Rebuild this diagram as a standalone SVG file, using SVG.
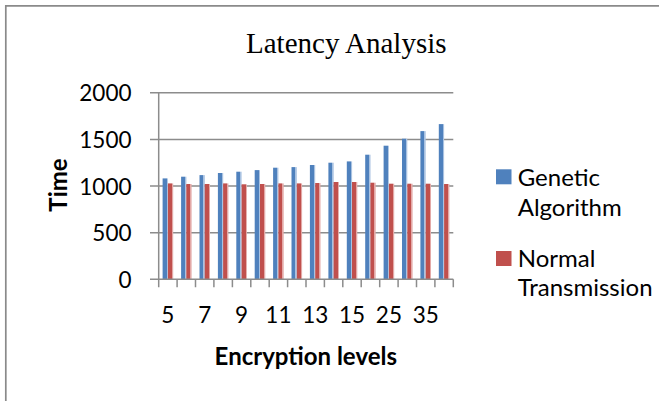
<svg xmlns="http://www.w3.org/2000/svg" width="659" height="401" viewBox="0 0 659 401">
  <defs>
    <!-- column fills: solid body with a pale right edge -->
    <linearGradient id="fill-genetic" x1="0" y1="0" x2="1" y2="0">
      <stop offset="0" stop-color="#4F81BD"/>
      <stop offset="0.74" stop-color="#4F81BD"/>
      <stop offset="0.74" stop-color="#A9C2E1"/>
      <stop offset="1" stop-color="#A9C2E1"/>
    </linearGradient>
    <linearGradient id="fill-normal" x1="0" y1="0" x2="1" y2="0">
      <stop offset="0" stop-color="#C0504D"/>
      <stop offset="0.74" stop-color="#C0504D"/>
      <stop offset="0.74" stop-color="#E3A9A7"/>
      <stop offset="1" stop-color="#E3A9A7"/>
    </linearGradient>
  </defs>
  <style>
    .frame { fill: none; stroke: #8A8A8A; stroke-width: 1.7; }
    .grid { stroke: #8C8C8C; stroke-width: 1.5; fill: none; }
    .axis { stroke: #8C8C8C; stroke-width: 1.5; fill: none; }
    .g-bar { fill: url(#fill-genetic); }
    .n-bar { fill: url(#fill-normal); }
    .title { font-family: "Liberation Serif", "Times New Roman", serif; font-size: 29px; fill: #000; }
    .tick { font-family: Lato, "Open Sans", "Liberation Sans", sans-serif; font-size: 22.5px; fill: #000; }
    .axis-title { font-family: Lato, "Open Sans", "Liberation Sans", sans-serif; font-size: 24px; font-weight: bold; fill: #000; }
    .legend { font-family: Lato, "Open Sans", "Liberation Sans", sans-serif; font-size: 24px; fill: #000; }
  </style>

  <rect width="659" height="401" fill="#FFFFFF"/>

  <!-- chart frame (only left and top edges fall inside the canvas) -->
  <path class="frame" d="M5.8,401 V5.8 H659"/>

  <g id="title">
    <text class="title" x="346.3" y="53.3" text-anchor="middle">Latency Analysis</text>
  </g>

  <!-- horizontal gridlines, each starting at its tick mark -->
  <g id="gridlines">
    <path class="grid" d="M150,92.7 H453.3 M150,139.4 H453.3 M150,186 H453.3 M150,232.7 H453.3"/>
  </g>

  <g id="series-genetic">
    <rect class="g-bar" x="162.6" y="178.4" width="5.3" height="100.9"/>
    <rect class="g-bar" x="181.1" y="176.7" width="5.3" height="102.6"/>
    <rect class="g-bar" x="199.5" y="175.1" width="5.3" height="104.2"/>
    <rect class="g-bar" x="217.9" y="173.0" width="5.3" height="106.3"/>
    <rect class="g-bar" x="236.3" y="171.7" width="5.3" height="107.6"/>
    <rect class="g-bar" x="254.7" y="170.1" width="5.3" height="109.2"/>
    <rect class="g-bar" x="273.1" y="167.7" width="5.3" height="111.6"/>
    <rect class="g-bar" x="291.5" y="167.1" width="5.3" height="112.2"/>
    <rect class="g-bar" x="309.9" y="165.0" width="5.3" height="114.3"/>
    <rect class="g-bar" x="328.4" y="162.7" width="5.3" height="116.6"/>
    <rect class="g-bar" x="346.8" y="161.4" width="5.3" height="117.9"/>
    <rect class="g-bar" x="365.2" y="154.7" width="5.3" height="124.6"/>
    <rect class="g-bar" x="383.6" y="145.7" width="5.3" height="133.6"/>
    <rect class="g-bar" x="402.0" y="138.7" width="5.3" height="140.6"/>
    <rect class="g-bar" x="420.4" y="131.1" width="5.3" height="148.2"/>
    <rect class="g-bar" x="438.8" y="124.1" width="5.3" height="155.2"/>
  </g>

  <g id="series-normal">
    <rect class="n-bar" x="167.9" y="183.4" width="5.3" height="95.9"/>
    <rect class="n-bar" x="186.3" y="184.0" width="5.3" height="95.3"/>
    <rect class="n-bar" x="204.7" y="184.0" width="5.3" height="95.3"/>
    <rect class="n-bar" x="223.1" y="183.4" width="5.3" height="95.9"/>
    <rect class="n-bar" x="241.6" y="184.3" width="5.3" height="95.0"/>
    <rect class="n-bar" x="260.0" y="184.0" width="5.3" height="95.3"/>
    <rect class="n-bar" x="278.4" y="183.4" width="5.3" height="95.9"/>
    <rect class="n-bar" x="296.8" y="183.4" width="5.3" height="95.9"/>
    <rect class="n-bar" x="315.2" y="183.0" width="5.3" height="96.3"/>
    <rect class="n-bar" x="333.6" y="182.0" width="5.3" height="97.3"/>
    <rect class="n-bar" x="352.0" y="182.0" width="5.3" height="97.3"/>
    <rect class="n-bar" x="370.4" y="182.7" width="5.3" height="96.6"/>
    <rect class="n-bar" x="388.9" y="183.7" width="5.3" height="95.6"/>
    <rect class="n-bar" x="407.3" y="183.7" width="5.3" height="95.6"/>
    <rect class="n-bar" x="425.7" y="183.7" width="5.3" height="95.6"/>
    <rect class="n-bar" x="444.1" y="184.0" width="5.3" height="95.3"/>
  </g>

  <!-- value axis, category axis and category tick marks -->
  <g id="axes">
    <path class="axis" d="M158.7,92.7 V279.3 M150,279.3 H453.3"/>
    <path class="axis" d="M158.7,279.3 V287.3 M177.1,279.3 V287.3 M195.5,279.3 V287.3 M213.9,279.3 V287.3 M232.4,279.3 V287.3 M250.8,279.3 V287.3 M269.2,279.3 V287.3 M287.6,279.3 V287.3 M306,279.3 V287.3 M324.4,279.3 V287.3 M342.8,279.3 V287.3 M361.2,279.3 V287.3 M379.7,279.3 V287.3 M398.1,279.3 V287.3 M416.5,279.3 V287.3 M434.9,279.3 V287.3 M453.3,279.3 V287.3"/>
  </g>

  <g id="value-labels">
    <text class="tick" x="131.5" y="101.4" text-anchor="end">2000</text>
    <text class="tick" x="131.5" y="148.1" text-anchor="end">1500</text>
    <text class="tick" x="131.5" y="194.7" text-anchor="end">1000</text>
    <text class="tick" x="131.5" y="241.4" text-anchor="end">500</text>
    <text class="tick" x="131.5" y="288" text-anchor="end">0</text>
  </g>

  <g id="category-labels">
    <text class="tick" x="167.9" y="322.5" text-anchor="middle">5</text>
    <text class="tick" x="204.7" y="322.5" text-anchor="middle">7</text>
    <text class="tick" x="241.6" y="322.5" text-anchor="middle">9</text>
    <text class="tick" x="278.4" y="322.5" text-anchor="middle">11</text>
    <text class="tick" x="315.2" y="322.5" text-anchor="middle">13</text>
    <text class="tick" x="352.0" y="322.5" text-anchor="middle">15</text>
    <text class="tick" x="388.9" y="322.5" text-anchor="middle">25</text>
    <text class="tick" x="425.7" y="322.5" text-anchor="middle">35</text>
  </g>

  <g id="axis-titles">
    <text class="axis-title" transform="translate(67,185) rotate(-90)" text-anchor="middle">Time</text>
    <text class="axis-title" x="305.8" y="364.5" text-anchor="middle">Encryption levels</text>
  </g>

  <g id="legend">
    <g id="legend-genetic">
      <rect x="496" y="169.3" width="15.5" height="15" fill="#4F81BD"/>
      <text class="legend" x="517.7" y="185.5">Genetic</text>
      <text class="legend" x="517.7" y="215.5">Algorithm</text>
    </g>
    <g id="legend-normal">
      <rect x="496" y="251" width="15.5" height="15" fill="#C0504D"/>
      <text class="legend" x="517.7" y="267">Normal</text>
      <text class="legend" x="517.7" y="296">Transmission</text>
    </g>
  </g>
</svg>
